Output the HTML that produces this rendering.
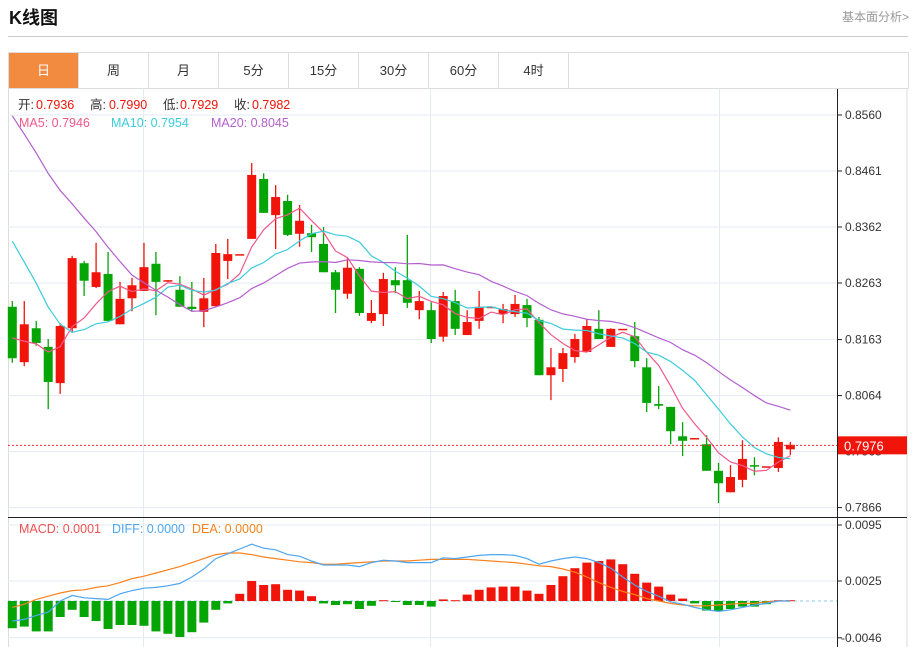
<!DOCTYPE html>
<html><head><meta charset="utf-8">
<style>
body{margin:0;width:915px;height:647px;overflow:hidden;background:#fff;font-family:"Liberation Sans","Noto Sans CJK SC",sans-serif;position:relative}
.title{position:absolute;left:9px;top:4px;font-size:18px;font-weight:bold;color:#111}
.more{position:absolute;right:6px;top:8px;font-size:12px;color:#999}
.hr{position:absolute;left:8px;top:36px;width:900px;height:1px;background:#ccc}
.tabs{position:absolute;left:8px;top:52px;width:899px;height:35px;border:1px solid #ddd;border-bottom:1px solid #ddd;display:flex}
.tab{width:69px;height:35px;line-height:35px;text-align:center;font-size:13px;color:#333;border-right:1px solid #ddd}
.tab.on{background:#f28a3f;color:#fff}
svg{position:absolute;left:0;top:0}
</style></head><body>
<div class="title">K线图</div>
<div class="more">基本面分析&gt;</div>
<div class="hr"></div>
<div class="tabs">
<div class="tab on">日</div>
<div class="tab">周</div>
<div class="tab">月</div>
<div class="tab">5分</div>
<div class="tab">15分</div>
<div class="tab">30分</div>
<div class="tab">60分</div>
<div class="tab">4时</div>
</div>
<svg id="chart" width="915" height="647"></svg>
<script>
const priorCloses=[0.884,0.882,0.881,0.879,0.878,0.877,0.876,0.875,0.874,0.874,0.856,0.853,0.851,0.849,0.845,0.822,0.818,0.816,0.814];
const opens=[.8221,.8123,.8183,.8150,.8086,.8183,.8298,.8256,.8279,.8190,.8236,.8249,.8297,.8267,.8251,.8221,.8212,.8222,.8302,.8314,.8341,.8447,.8383,.8408,.8350,.8351,.8332,.8282,.8244,.8288,.8196,.8208,.8268,.8268,.8215,.8215,.8168,.8231,.8171,.8196,.8221,.8208,.8208,.8224,.8198,.8100,.8111,.8132,.8141,.8182,.8150,.8182,.8169,.8114,.8049,.8044,.7992,.7989,.7978,.7931,.7893,.7915,.7941,.7939,.7936,.7969];
const highs=[.8231,.8231,.8196,.8164,.8192,.8311,.8302,.8334,.8318,.8265,.8272,.8334,.8318,.8268,.8275,.8265,.8272,.8332,.8341,.8314,.8475,.8457,.8436,.8419,.8401,.8366,.8362,.8286,.8307,.8291,.8233,.8281,.8291,.8348,.8249,.8229,.8247,.8251,.8215,.8249,.8221,.8226,.8242,.8235,.8203,.8148,.8148,.8173,.8199,.8215,.8183,.8182,.8194,.8130,.8081,.8044,.8017,.7989,.7994,.7945,.7941,.7985,.7955,.7939,.7990,.7982];
const lows=[.8122,.8116,.8152,.8040,.8067,.8175,.8240,.8254,.8196,.8190,.8213,.8249,.8206,.8265,.8221,.8212,.8185,.8222,.8270,.8314,.8341,.8387,.8323,.8346,.8327,.8318,.8282,.8210,.8235,.8205,.8192,.8187,.8245,.8219,.8199,.8157,.8159,.8171,.8171,.8182,.8221,.8192,.8203,.8185,.8100,.8056,.8088,.8122,.8141,.8164,.8150,.8182,.8114,.8035,.8040,.7978,.7957,.7989,.7931,.7874,.7893,.7902,.7923,.7939,.7929,.7959];
const closes=[.8130,.8190,.8157,.8088,.8187,.8307,.8267,.8282,.8196,.8235,.8259,.8291,.8265,.8268,.8221,.8217,.8236,.8316,.8314,.8314,.8454,.8387,.8415,.8348,.8373,.8344,.8282,.8251,.8290,.8210,.8210,.8270,.8259,.8228,.8231,.8164,.8240,.8182,.8194,.8221,.8221,.8217,.8226,.8201,.8100,.8114,.8139,.8164,.8187,.8164,.8182,.8182,.8125,.8051,.8046,.8001,.7984,.7989,.7931,.7909,.7920,.7952,.7939,.7939,.7982,.7977];
const diffVals=[-.0025,-.0023,-.0018,-.0014,0,.0007,.0004,.0003,.0002,.0009,.0013,.0016,.0017,.0019,.0022,.0030,.0040,.0053,.0059,.0065,.0071,.0066,.0064,.0058,.0056,.0050,.0045,.0045,.0045,.0043,.0048,.0051,.0050,.0048,.0048,.0048,.0054,.0053,.0055,.0057,.0058,.0058,.0057,.0053,.0046,.0050,.0053,.0055,.0053,.0048,.0041,.0030,.0020,.0012,.0006,-.0001,-.0004,-.0008,-.0011,-.0013,-.0011,-.0008,-.0005,-.0003,0,0];
const deaVals=[-.0008,-.0004,.0002,.0006,.0010,.0013,.0014,.0017,.0019,.0023,.0028,.0031,.0035,.0039,.0043,.0048,.0053,.0058,.0060,.0060,.0058,.0055,.0053,.0051,.0049,.0048,.0046,.0046,.0047,.0048,.0049,.0050,.0050,.0050,.0051,.0052,.0052,.0052,.0052,.0051,.0050,.0049,.0048,.0046,.0044,.0043,.0040,.0036,.0030,.0023,.0017,.0012,.0008,.0003,0,-.0003,-.0005,-.0006,-.0006,-.0005,-.0004,-.0003,-.0003,-.0001,0,0];
const histVals=[-.0034,-.0032,-.0038,-.0038,-.0020,-.0011,-.0020,-.0025,-.0035,-.0030,-.0030,-.0031,-.0038,-.0041,-.0045,-.0039,-.0027,-.0011,-.0003,.0009,.0025,.0020,.0021,.0014,.0013,.0006,-.0003,-.0005,-.0004,-.0010,-.0006,.0001,-.0001,-.0005,-.0005,-.0007,.0002,.0001,.0008,.0014,.0017,.0018,.0018,.0013,.0009,.0020,.0031,.0041,.0048,.0050,.0052,.0046,.0034,.0023,.0018,.0008,.0003,-.0003,-.0012,-.0013,-.0010,-.0007,-.0007,-.0004,.0001,.0001];
const priceTicks=[0.8560,0.8461,0.8362,0.8263,0.8163,0.8064,0.7965,0.7866];
const macdTicks=[0.0095,0.0025,-0.0046];
const lastPrice=0.7976;

const NS='http://www.w3.org/2000/svg';
const svg=document.getElementById('chart');
const RED='#f0140a',GREEN='#06a506';
function py(p){return 115+(0.8560-p)/0.0099*56;}
function my(v){return 601-v/0.0070*56;}
function cx(i){return 12.3+i*11.97;}
function mk(tag,attrs,parent){const e=document.createElementNS(NS,tag);for(const k in attrs)e.setAttribute(k,attrs[k]);(parent||svg).appendChild(e);return e;}

// frame & grid
const grid=mk('g',{});


mk('rect',{x:8.5,y:88.5,width:898.5,height:560,fill:'none',stroke:'#ddd'},grid);
priceTicks.forEach(t=>mk('line',{x1:8,x2:837,y1:py(t),y2:py(t),stroke:'#e3eaf1'},grid));
macdTicks.forEach(t=>mk('line',{x1:8,x2:837,y1:my(t),y2:my(t),stroke:'#e3eaf1'},grid));
[143.5,430.5,719.5].forEach(x=>mk('line',{x1:x,x2:x,y1:89,y2:647,stroke:'#e3eaf1'},grid));
mk('line',{x1:8,x2:907,y1:517.5,y2:517.5,stroke:'#222'},grid);
mk('line',{x1:837.5,x2:837.5,y1:89,y2:647,stroke:'#222'},grid);

// axis labels
const ax=mk('g',{'font-size':12,fill:'#333','font-family':'Liberation Sans, sans-serif'});


priceTicks.forEach(t=>{mk('line',{x1:837,x2:842,y1:py(t),y2:py(t),stroke:'#222'},ax);const tx=mk('text',{x:845,y:py(t)+4},ax);tx.textContent=t.toFixed(4);});
const ax2=mk('g',{'font-size':12,fill:'#333','font-family':'Liberation Sans, sans-serif'});


macdTicks.forEach(t=>{mk('line',{x1:837,x2:842,y1:my(t),y2:my(t),stroke:'#222'},ax2);const tx=mk('text',{x:t<0?841:845,y:my(t)+4},ax2);tx.textContent=t.toFixed(4);});

// candles
const cg=mk('g',{});


for(let i=0;i<closes.length;i++){
  const up=closes[i]>=opens[i];const col=up?RED:GREEN;const x=cx(i);
  const g=mk('g',{},cg);
  
  
  mk('line',{x1:x,x2:x,y1:py(highs[i]),y2:py(lows[i]),stroke:col,'stroke-width':1.3},g);
  const t=py(Math.max(opens[i],closes[i])),b=py(Math.min(opens[i],closes[i]));
  mk('rect',{x:x-4.5,y:t,width:9,height:Math.max(b-t,1.5),fill:col},g);
}
// MAs
const all=priorCloses.concat(closes);
function ma(n){const r=[];for(let i=0;i<closes.length;i++){const k=i+priorCloses.length;let s=0;for(let j=k-n+1;j<=k;j++)s+=all[j];r.push(s/n);}return r;}
[[5,'#f0588a','ma5-line'],[10,'#3cccdc','ma10-line'],[20,'#b45fcf','ma20-line']].forEach(([n,c,name])=>{
  const v=ma(n);const p=mk('polyline',{points:v.map((m,i)=>cx(i)+','+py(m)).join(' '),fill:'none',stroke:c,'stroke-width':1.2});
  
  
});
// last price
const lp=mk('g',{});


mk('line',{x1:8,x2:837,y1:py(lastPrice),y2:py(lastPrice),stroke:'#f03030','stroke-dasharray':'2,2'},lp);
mk('rect',{x:838,y:py(lastPrice)-9,width:69,height:18,fill:'#f0140a'},lp);
const lpt=mk('text',{x:844,y:py(lastPrice)+5,fill:'#fff','font-size':13},lp);lpt.textContent=lastPrice.toFixed(4);

// MACD
mk('line',{x1:8,x2:837,y1:my(0),y2:my(0),stroke:'#8cc8e8','stroke-dasharray':'3,3'});
const hg=mk('g',{});


histVals.forEach((v,i)=>{const y0=my(0),y1=my(v);const r=mk('rect',{x:cx(i)-4.5,y:Math.min(y0,y1),width:9,height:Math.max(Math.abs(y1-y0),1),fill:v>=0?RED:GREEN},hg);
  
  });
const dl=mk('polyline',{points:deaVals.map((v,i)=>cx(i)+','+my(v)).join(' '),fill:'none',stroke:'#f7821e','stroke-width':1.2});


const fl=mk('polyline',{points:diffVals.map((v,i)=>cx(i)+','+my(v)).join(' '),fill:'none',stroke:'#4ea6f0','stroke-width':1.2});



// legends
function txt(x,y,s,c,name){const t=mk('text',{x:x,y:y,fill:c,'font-size':12.5});t.textContent=s;
  
  return t;}
txt(18,109,'开:','#333','open-label');txt(36,109,'0.7936',RED,'open-value');
txt(90,109,'高:','#333','high-label');txt(109,109,'0.7990',RED,'high-value');
txt(163,109,'低:','#333','low-label');txt(180,109,'0.7929',RED,'low-value');
txt(234,109,'收:','#333','close-label');txt(252,109,'0.7982',RED,'close-value');
txt(19,127,'MA5: 0.7946','#f0588a','ma5-legend');
txt(111,127,'MA10: 0.7954','#3cccdc','ma10-legend');
txt(211,127,'MA20: 0.8045','#b45fcf','ma20-legend');
txt(19,533,'MACD: 0.0001','#f05050','macd-legend');
txt(112,533,'DIFF: 0.0000','#4ea6f0','diff-legend');
txt(192,533,'DEA: 0.0000','#f7821e','dea-legend');
</script>
</body></html>
